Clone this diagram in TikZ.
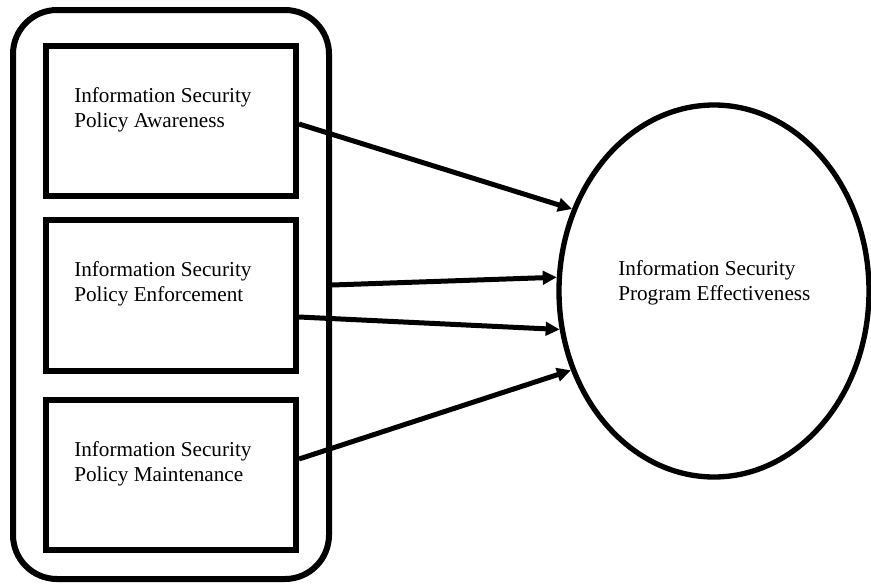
\documentclass[tikz,border=0pt]{standalone}
\usepackage{fontspec}
\setmainfont{Liberation Serif}
\usetikzlibrary{arrows.meta,shapes.geometric,calc}
\begin{document}
\begin{tikzpicture}[x=0.75pt,y=-0.75pt,
  boxstyle/.style={draw,line width=4.5pt,rectangle,inner sep=0pt},
  lbl/.style={inner sep=0pt,anchor=north west,align=left,font=\fontsize{15.9pt}{18.75pt}\selectfont},
  conn/.style={line width=3.75pt,-{Triangle[length=10.5pt,width=10pt]}}]
\useasboundingbox (0,0) rectangle (871,586);
\node[boxstyle,rounded corners=33pt,minimum width=237pt,minimum height=426.75pt] (outer) at (171,294.5) {};
\node[boxstyle,minimum width=187.5pt,minimum height=112.5pt] (b1) at (171,121) {};
\node[boxstyle,minimum width=187.5pt,minimum height=113.25pt] (b2) at (171,295.5) {};
\node[boxstyle,minimum width=187.5pt,minimum height=112.5pt] (b3) at (171,475) {};
\node[lbl] (t1) at (74,87) {Information Security\\Policy Awareness};
\node[lbl] (t2) at (74,261) {Information Security\\Policy Enforcement};
\node[lbl] (t3) at (74,441) {Information Security\\Policy Maintenance};
\node[draw,ellipse,line width=4pt,inner sep=0pt,minimum width=232.5pt,minimum height=279pt] (eff) at (714,291) {};
\node[lbl] (te) at (618,260) {Information Security\\Program Effectiveness};
\draw[conn] ($(b1.east)+(0,3)$) -- (eff.150.7);
\draw[conn] ($(outer.east)+(0,-9.5)$) -- (eff.175.3);
\draw[conn] ($(b2.east)+(0,21.5)$) -- (eff.194.4);
\draw[conn] ($(b3.east)+(0,-16)$) -- (eff.209.7);
\end{tikzpicture}
\end{document}
